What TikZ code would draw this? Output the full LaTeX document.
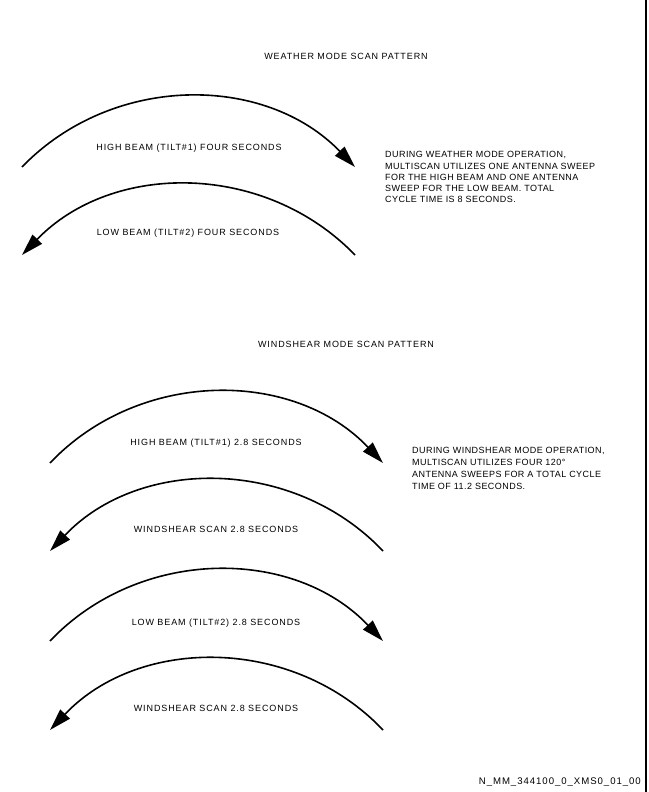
\documentclass[tikz,border=0pt]{standalone}
\usepackage{fontspec}
\usetikzlibrary{arrows.meta}
\newfontfamily\lblfont[LetterSpace=10]{Liberation Sans}
\newfontfamily\parfont[LetterSpace=5]{Liberation Sans}
\tikzset{
  scanarc/.style={line width=1.6pt, -{Triangle[length=22pt,width=13pt]}},
  lbl/.style={font=\lblfont\fontsize{9}{11}\selectfont, inner sep=0pt},
  para/.style={font=\parfont\fontsize{9}{11.3}\selectfont, inner sep=0pt, align=left, anchor=north west},
}
\begin{document}
\begin{tikzpicture}[x=1pt,y=-1pt]
\useasboundingbox (0,0) rectangle (648,792);
% right border
\draw[line width=2pt] (646,0) -- (646,792);

% titles
\node[lbl] (t1) at (346,56) {WEATHER MODE SCAN PATTERN};
\node[lbl] (t2) at (346,344) {WINDSHEAR MODE SCAN PATTERN};

% weather arcs
\coordinate (w1a) at (22,167);
\coordinate (w1b) at (355,167);
\coordinate (w2a) at (355,255);
\coordinate (w2b) at (22,255);
\draw[scanarc] (w1a) to[bend left=46] (w1b);
\draw[scanarc] (w2a) to[bend right=46] (w2b);
\node[lbl] (l1) at (189,148) {HIGH BEAM (TILT\#1) FOUR SECONDS};
\node[lbl] (l2) at (188,233) {LOW BEAM (TILT\#2) FOUR SECONDS};

\node[para, font=\parfont\fontsize{9}{11.25}\selectfont] (p1) at (385,151.3)
  {DURING WEATHER MODE OPERATION,\\
   MULTISCAN UTILIZES ONE ANTENNA SWEEP\\
   FOR THE HIGH BEAM AND ONE ANTENNA\\
   SWEEP FOR THE LOW BEAM. TOTAL\\
   CYCLE TIME IS 8 SECONDS.};

% windshear arcs
\coordinate (s1a) at (50,463);
\coordinate (s1b) at (383,463);
\coordinate (s2a) at (383,551);
\coordinate (s2b) at (50,551);
\coordinate (s3a) at (50,641);
\coordinate (s3b) at (383,641);
\coordinate (s4a) at (383,730);
\coordinate (s4b) at (50,730);
\draw[scanarc] (s1a) to[bend left=46.5] (s1b);
\draw[scanarc] (s2a) to[bend right=46.5] (s2b);
\draw[scanarc] (s3a) to[bend left=46.5] (s3b);
\draw[scanarc] (s4a) to[bend right=46.5] (s4b);
\node[lbl] (m1) at (216,443) {HIGH BEAM (TILT\#1) 2.8 SECONDS};
\node[lbl] (m2) at (216,529) {WINDSHEAR SCAN 2.8 SECONDS};
\node[lbl] (m3) at (216,623) {LOW BEAM (TILT\#2) 2.8 SECONDS};
\node[lbl] (m4) at (216,708) {WINDSHEAR SCAN 2.8 SECONDS};

\node[para, font=\parfont\fontsize{9}{12}\selectfont] (p2) at (412,446.8)
  {DURING WINDSHEAR MODE OPERATION,\\
   MULTISCAN UTILIZES FOUR 120°\\
   ANTENNA SWEEPS FOR A TOTAL CYCLE\\
   TIME OF 11.2 SECONDS.};

\node[lbl, font=\lblfont\fontsize{9.6}{11}\selectfont, anchor=east] (ft) at (641,782) {N\_MM\_344100\_0\_XMS0\_01\_00};
\end{tikzpicture}
\end{document}
